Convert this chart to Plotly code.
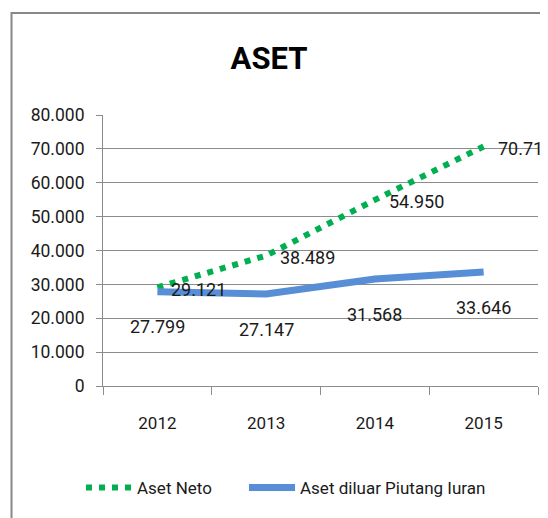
import plotly.graph_objects as go

years = ["2012", "2013", "2014", "2015"]
aset_neto = [29121, 38489, 54950, 70717]
aset_diluar = [27799, 27147, 31568, 33646]
y_ticks = [0, 10000, 20000, 30000, 40000, 50000, 60000, 70000, 80000]

FONT = "Roboto, 'Open Sans', sans-serif"
GREEN = "#00B050"
BLUE = "#588ED5"
GRID = "#8C8C8C"
TXT = "#1a1a1a"

# the page body adds an 8px margin, so the figure is laid out in shifted coords
OFF = 8
W, H = 548 - OFF, 518 - OFF
PL, PR, PT, PB = 103 - OFF, 538 - OFF, 115 - OFF, 386 - OFF


def px_x(p):
    return (p - OFF - PL) / (PR - PL)


def px_y(p):
    return (PB - (p - OFF)) / (PB - PT)


def fmt(v):
    return f"{v:,}".replace(",", ".")


fig = go.Figure()
fig.add_trace(go.Scatter(
    x=years, y=aset_neto, name="Aset Neto", mode="lines",
    line=dict(color=GREEN, width=6, dash="6px,7px"),
    legend="legend",
))
fig.add_trace(go.Scatter(
    x=years, y=aset_diluar, name="Aset diluar Piutang Iuran", mode="lines",
    line=dict(color=BLUE, width=7),
    legend="legend2",
))

annotations = []
for i, v in enumerate(aset_neto):
    annotations.append(dict(x=i, y=v, xref="x", yref="y", text=fmt(v), showarrow=False,
                            xanchor="left", yanchor="middle", xshift=12, yshift=-2,
                            font=dict(family=FONT, size=18, color=TXT)))
for i, v in enumerate(aset_diluar):
    annotations.append(dict(x=i, y=v, xref="x", yref="y", text=fmt(v), showarrow=False,
                            xanchor="center", yanchor="middle", yshift=-35,
                            font=dict(family=FONT, size=18, color=TXT)))

# chart border (extends beyond the visible window on right/bottom)
shapes = [dict(type="rect", xref="paper", yref="paper",
               x0=px_x(11.5), x1=px_x(600), y0=px_y(600), y1=px_y(13),
               line=dict(color="#888888", width=2), layer="below")]

fig.update_layout(
    width=W, height=H,
    margin=dict(l=PL, r=W - PR, t=PT, b=H - PB, pad=0),
    paper_bgcolor="white", plot_bgcolor="white",
    separators=",.",
    font=dict(family=FONT, size=17, color=TXT),
    annotations=annotations,
    shapes=shapes,
    title=dict(text="<b>ASET</b>", x=(269 - OFF) / W, xanchor="center",
               y=1 - (58 - OFF) / H, yanchor="middle", xref="container", yref="container",
               font=dict(family=FONT, size=31, color="black")),
    xaxis=dict(
        type="category", range=[-0.5, 3.5], tickson="boundaries",
        ticks="outside", ticklen=8, tickcolor=GRID, tickwidth=1,
        showgrid=False, showline=True, linecolor=GRID, linewidth=1,
        ticklabelstandoff=22,
        tickfont=dict(family=FONT, size=17, color=TXT),
        zeroline=False,
    ),
    yaxis=dict(
        range=[0, 80000], tickvals=y_ticks, tickformat=",d",
        ticks="outside", ticklen=6, tickcolor=GRID, tickwidth=1,
        showgrid=True, gridcolor=GRID, gridwidth=1,
        showline=True, linecolor=GRID, linewidth=1,
        ticklabelstandoff=8, zeroline=False,
        tickfont=dict(family=FONT, size=17.5, color=TXT),
    ),
    legend=dict(orientation="h", x=px_x(81), xanchor="left",
                y=px_y(488), yanchor="middle", itemwidth=46,
                font=dict(family=FONT, size=17, color=TXT),
                bgcolor="rgba(0,0,0,0)"),
    legend2=dict(orientation="h", x=px_x(244), xanchor="left",
                 y=px_y(488), yanchor="middle", itemwidth=46,
                 font=dict(family=FONT, size=17, color=TXT),
                 bgcolor="rgba(0,0,0,0)"),
    showlegend=True,
)

fig.write_html("out.html")
